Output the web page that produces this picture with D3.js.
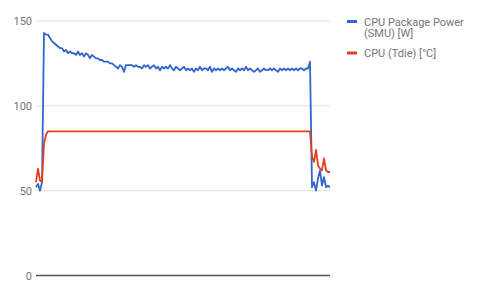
<!DOCTYPE html>
<html>
<head>
<meta charset="utf-8">
<script src="https://cdn.jsdelivr.net/npm/d3@7"></script>
<style>
  body { margin: 0; background: #fff; }
  text { font-family: Roboto, Arial, sans-serif; }
</style>
</head>
<body>
<div id="main"></div>
<script>
const width = 480;
const height = 297;

// y axis ticks
const yTicks = [0, 50, 100, 150];

// legend names
const seriesNames = ["CPU Package Power (SMU) [W]", "CPU (Tdie) [°C]"];
const seriesColors = ["#3366cc", "#e0401a"];

// CPU Package Power samples
const power = [
  52, 54, 50, 55, 143, 142, 142, 140, 138, 137,
  136, 135, 134, 134, 132, 133, 131, 132, 131, 131,
  130, 132, 130, 131, 129, 131, 130, 128, 130, 129,
  128, 128, 127, 127, 126, 126, 126, 125, 125, 124,
  123, 122, 124, 123, 120, 124, 124, 124, 124, 123,
  124, 123, 123, 122, 124, 123, 124, 122, 123, 124,
  122, 123, 121, 123, 122, 123, 122, 124, 122, 121,
  123, 122, 121, 122, 123, 121, 122, 121, 122, 120,
  122, 121, 123, 121, 122, 122, 121, 123, 120, 122,
  121, 122, 121, 122, 121, 122, 123, 121, 122, 121,
  120, 122, 121, 122, 121, 123, 121, 122, 121, 120,
  121, 122, 120, 121, 122, 121, 121, 122, 121, 122,
  121, 120, 122, 121, 122, 121, 122, 121, 122, 121,
  122, 121, 122, 122, 121, 122, 122, 126, 52, 55,
  50, 57, 62, 53, 58, 52, 53, 52
];

// CPU Tdie temperature samples
const tdie = [
  55, 63, 56, 55, 78, 83, 85, 85, 85, 85,
  85, 85, 85, 85, 85, 85, 85, 85, 85, 85,
  85, 85, 85, 85, 85, 85, 85, 85, 85, 85,
  85, 85, 85, 85, 85, 85, 85, 85, 85, 85,
  85, 85, 85, 85, 85, 85, 85, 85, 85, 85,
  85, 85, 85, 85, 85, 85, 85, 85, 85, 85,
  85, 85, 85, 85, 85, 85, 85, 85, 85, 85,
  85, 85, 85, 85, 85, 85, 85, 85, 85, 85,
  85, 85, 85, 85, 85, 85, 85, 85, 85, 85,
  85, 85, 85, 85, 85, 85, 85, 85, 85, 85,
  85, 85, 85, 85, 85, 85, 85, 85, 85, 85,
  85, 85, 85, 85, 85, 85, 85, 85, 85, 85,
  85, 85, 85, 85, 85, 85, 85, 85, 85, 85,
  85, 85, 85, 85, 85, 85, 85, 85, 70, 67,
  74, 65, 63, 62, 69, 62, 61, 61
];

const plotLeft = 36, plotRight = 330, plotTop = 21, plotBottom = 275.5;

const svg = d3.select("#main")
  .append("svg")
  .attr("width", width)
  .attr("height", height);

const xScale = d3.scaleLinear()
  .domain([0, power.length - 1])
  .range([plotLeft, plotRight]);

const yScale = d3.scaleLinear()
  .domain([0, 150])
  .range([plotBottom, plotTop]);

// grid lines
svg.append("g")
  .selectAll("line")
  .data(yTicks.filter(d => d != 0))
  .enter()
  .append("line")
  .attr("x1", plotLeft)
  .attr("x2", plotRight)
  .attr("y1", d => yScale(d))
  .attr("y2", d => yScale(d))
  .attr("stroke", "#e0e0e0")
  .attr("stroke-width", 1);

// y labels
const yAxis = d3.axisLeft(yScale)
  .tickValues(yTicks)
  .tickSize(0)
  .tickPadding(4);
svg.append("g")
  .attr("transform", "translate(" + plotLeft + ",0)")
  .call(yAxis)
  .call(g => g.select(".domain").remove())
  .call(g => g.selectAll("text")
    .style("font-family", "Roboto, Arial, sans-serif")
    .style("font-size", "11px")
    .attr("fill", "#757575"));

const line = d3.line()
  .x((d, i) => xScale(i))
  .y(d => yScale(d));

svg.append("path")
  .datum(power)
  .attr("d", line)
  .attr("fill", "none")
  .attr("stroke", seriesColors[0])
  .attr("stroke-width", 1.8)
  .attr("stroke-linejoin", "round");

svg.append("path")
  .datum(tdie)
  .attr("d", line)
  .attr("fill", "none")
  .attr("stroke", seriesColors[1])
  .attr("stroke-width", 1.8)
  .attr("stroke-linejoin", "round");

// baseline
svg.append("line")
  .attr("x1", plotLeft)
  .attr("x2", plotRight)
  .attr("y1", yScale(0))
  .attr("y2", yScale(0))
  .attr("stroke", "#555")
  .attr("stroke-width", 1.5);

// legend
const legend = svg.append("g").attr("transform", "translate(347,0)");
legend.append("rect").attr("x", 0).attr("y", 20).attr("width", 10).attr("height", 3).attr("fill", seriesColors[0]);
legend.append("text").attr("x", 17).attr("y", 25.5)
  .style("font-size", "11px").attr("fill", "#757575")
  .text("CPU Package Power");
legend.append("text").attr("x", 17).attr("y", 37)
  .style("font-size", "11px").attr("fill", "#757575")
  .text("(SMU) [W]");
legend.append("rect").attr("x", 0).attr("y", 51.5).attr("width", 10).attr("height", 3).attr("fill", seriesColors[1]);
legend.append("text").attr("x", 17).attr("y", 57)
  .style("font-size", "11px").attr("fill", "#757575")
  .text(seriesNames[1]);
</script>
</body>
</html>
